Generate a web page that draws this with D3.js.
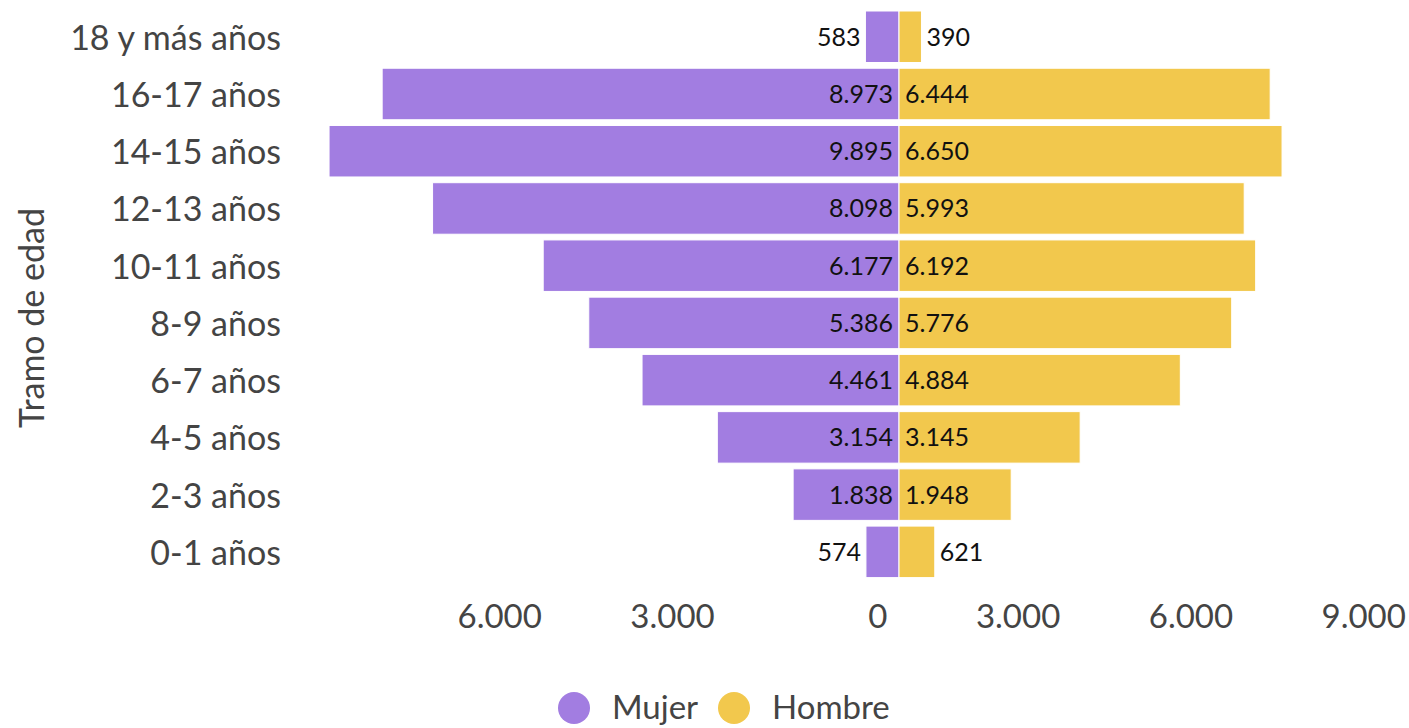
<!DOCTYPE html>
<html>
<head>
<meta charset="utf-8">
<script src="https://cdn.jsdelivr.net/npm/d3@7"></script>
<style>
  body { margin: 0; background: #fff; }
  svg text { font-family: Lato, "Noto Sans", sans-serif; }
</style>
</head>
<body>
<script>
var w = 1409;
var h = 728;

// data, top to bottom
var tramos = ['18 y más años', '16-17 años', '14-15 años', '12-13 años', '10-11 años',
              '8-9 años', '6-7 años', '4-5 años', '2-3 años', '0-1 años'];
var mujer  = [583, 8973, 9895, 8098, 6177, 5386, 4461, 3154, 1838, 574];
var hombre = [390, 6444, 6650, 5993, 6192, 5776, 4884, 3145, 1948, 621];
var tickVals = [-6000, -3000, 0, 3000, 6000, 9000];
var series = ['Mujer', 'Hombre'];
var colores = ['#a27de1', '#f2c84d'];

var locale = d3.formatLocale({decimal: ',', thousands: '.', grouping: [3], currency: ['$', '']});
var fmt = locale.format(',');

var svg = d3.select('body')
            .append('svg')
            .attr('width', w)
            .attr('height', h);

var cx = 899;
var x = d3.scaleLinear()
          .domain([-9000, 9000])
          .range([cx - 518.4, cx + 518.4]);

var y = d3.scaleBand()
          .domain(tramos)
          .range([11, 577.6])
          .paddingInner(0.1)
          .paddingOuter(0.0);

var rows = tramos.map(function(t, i) {
    return {tramo: t, m: mujer[i], h: hombre[i]};
});

// bars
var bars = svg.append('g');
bars.selectAll('rect.m')
    .data(rows)
    .enter()
    .append('rect')
    .attr('x', function(d) { return x(-d.m); })
    .attr('width', function(d) { return x(0) - x(-d.m); })
    .attr('y', function(d) { return y(d.tramo); })
    .attr('height', y.bandwidth())
    .attr('fill', colores[0])
    .attr('stroke', '#fff')
    .attr('stroke-width', 1);

bars.selectAll('rect.h')
    .data(rows)
    .enter()
    .append('rect')
    .attr('x', x(0))
    .attr('width', function(d) { return x(d.h) - x(0); })
    .attr('y', function(d) { return y(d.tramo); })
    .attr('height', y.bandwidth())
    .attr('fill', colores[1])
    .attr('stroke', '#fff')
    .attr('stroke-width', 1);

// value labels
var lbl = svg.append('g')
             .attr('font-size', 25)
             .attr('fill', '#111');
lbl.selectAll('text.m')
   .data(rows)
   .enter()
   .append('text')
   .attr('x', function(d) {
       var bw = x(0) - x(-d.m);
       return bw < 60 ? x(-d.m) - 5 : x(0) - 6;
   })
   .attr('y', function(d) { return y(d.tramo) + y.bandwidth() / 2; })
   .attr('dy', '0.36em')
   .attr('text-anchor', 'end')
   .text(function(d) { return fmt(d.m); });

lbl.selectAll('text.h')
   .data(rows)
   .enter()
   .append('text')
   .attr('x', function(d) {
       var bw = x(d.h) - x(0);
       return bw < 60 ? x(d.h) + 5 : x(0) + 6;
   })
   .attr('y', function(d) { return y(d.tramo) + y.bandwidth() / 2; })
   .attr('dy', '0.36em')
   .attr('text-anchor', 'start')
   .text(function(d) { return fmt(d.h); });

// category labels
svg.append('g')
   .selectAll('text')
   .data(tramos)
   .enter()
   .append('text')
   .attr('x', 281)
   .attr('y', function(d) { return y(d) + y.bandwidth() / 2; })
   .attr('dy', '0.38em')
   .attr('text-anchor', 'end')
   .attr('font-size', 34)
   .attr('fill', '#444')
   .text(function(d) { return d; });

// x axis
var xAxis = d3.axisBottom(x)
              .tickValues(tickVals)
              .tickSize(0)
              .tickFormat(function(d) { return fmt(Math.abs(d)); });
var ax = svg.append('g')
            .attr('transform', 'translate(0,600)')
            .call(xAxis);
ax.select('.domain').remove();
ax.selectAll('text')
  .attr('font-size', 33)
  .attr('fill', '#444')
  .attr('text-anchor', 'end')
  .attr('dx', -12)
  .attr('y', 28)
  .attr('dy', 0);

// axis title
svg.append('text')
   .attr('transform', 'translate(44,318) rotate(-90)')
   .attr('text-anchor', 'middle')
   .attr('font-size', 34)
   .attr('fill', '#444')
   .text('Tramo de edad');

// legend
var leg = svg.append('g');
var legX = [574, 734];
leg.selectAll('circle')
   .data(series)
   .enter()
   .append('circle')
   .attr('cx', function(d, i) { return legX[i]; })
   .attr('cy', 708)
   .attr('r', 16)
   .attr('fill', function(d, i) { return colores[i]; });
leg.selectAll('text')
   .data(series)
   .enter()
   .append('text')
   .attr('x', function(d, i) { return legX[i] + 38; })
   .attr('y', 719)
   .attr('font-size', 33)
   .attr('fill', '#444')
   .text(function(d) { return d; });
</script>
</body>
</html>
